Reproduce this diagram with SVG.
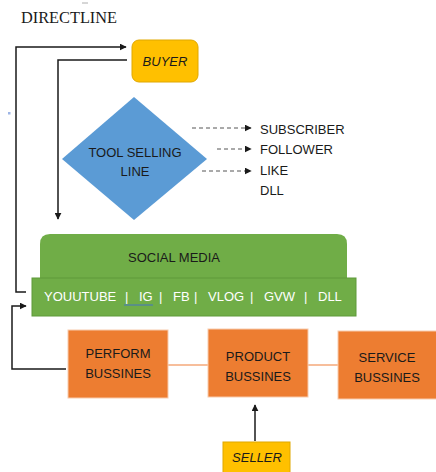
<svg xmlns="http://www.w3.org/2000/svg" width="436" height="472" viewBox="0 0 436 472">
  <style>
    .lbl { font-family: "Liberation Sans", Arial, sans-serif; font-size: 13px; fill: #1a1a1a; }
    .mid { text-anchor: middle; }
    .ital { font-style: italic; }
    .wire { fill: none; stroke: #1a1a1a; stroke-width: 1.5; }
    .dash { fill: none; stroke: #555; stroke-width: 1; stroke-dasharray: 4 3; }
    .link { fill: none; stroke: #F4A97A; stroke-width: 1.5; }
    .biz { fill: #ED7D31; stroke: #F8CBAD; stroke-width: 1; }
    .gold { fill: #FFC000; stroke: #E0A800; stroke-width: 1; }
    .chan { font-family: "Liberation Sans", Arial, sans-serif; font-size: 13px; fill: #ffffff; }
  </style>
  <defs>
    <marker id="tip" viewBox="0 0 10 10" refX="9" refY="5" markerWidth="7" markerHeight="7" markerUnits="userSpaceOnUse" orient="auto">
      <path d="M0,0 L10,5 L0,10 z" fill="#1a1a1a"/>
    </marker>
  </defs>

  <rect width="436" height="472" fill="#ffffff"/>

  <!-- heading -->
  <line x1="82" y1="3" x2="88" y2="3" stroke="#999" stroke-width="0.8"/>
  <text x="21" y="23" font-family="'Liberation Serif', 'Times New Roman', serif" font-size="16" fill="#1a1a1a" textLength="96" lengthAdjust="spacingAndGlyphs">DIRECTLINE</text>
  <rect x="8" y="112" width="2.5" height="2.5" fill="#9DB5E6"/>

  <!-- connectors -->
  <g id="connectors">
    <path class="wire" d="M26,292 L16,292 L16,47 L126,47" marker-end="url(#tip)"/>
    <path class="wire" d="M127,60 L58,60 L58,219" marker-end="url(#tip)"/>
    <path class="wire" d="M66,369 L12,369 L12,306 L26,306" marker-end="url(#tip)"/>
    <path class="wire" d="M255,441 L255,405" marker-end="url(#tip)"/>
    <path class="dash" d="M192,128 L251,128" marker-end="url(#tip)"/>
    <path class="dash" d="M217,149 L251,149" marker-end="url(#tip)"/>
    <path class="dash" d="M202,171 L251,171" marker-end="url(#tip)"/>
    <line class="link" x1="168" y1="365" x2="208" y2="365"/>
    <line class="link" x1="308" y1="365" x2="338" y2="365"/>
  </g>

  <g id="buyer">
    <rect class="gold" x="132" y="40" width="66" height="42" rx="7"/>
    <text class="lbl mid ital" x="165" y="66">BUYER</text>
  </g>

  <g id="tool-selling-line">
    <polygon points="134,97 207,159 134,220 62,159" fill="#5B9BD5"/>
    <text class="lbl mid" x="135" y="157">TOOL SELLING</text>
    <text class="lbl mid" x="135" y="176">LINE</text>
  </g>

  <g id="metrics">
    <text class="lbl" x="260" y="134">SUBSCRIBER</text>
    <text class="lbl" x="260" y="154">FOLLOWER</text>
    <text class="lbl" x="260" y="175">LIKE</text>
    <text class="lbl" x="260" y="195">DLL</text>
  </g>

  <g id="social-media">
    <path d="M40,278 L40,244 Q40,234 50,234 L337,234 Q347,234 347,244 L347,278 Z" fill="#70AD47"/>
    <text class="lbl mid" x="174" y="262" font-size="13.8">SOCIAL MEDIA</text>
    <rect x="32" y="278" width="324" height="38" fill="#70AD47" stroke="#5E9A3A" stroke-width="1"/>
    <text class="chan" y="301"><tspan x="44">YOUUTUBE</tspan><tspan x="125">|</tspan><tspan x="139">IG</tspan><tspan x="159">|</tspan><tspan x="173">FB</tspan><tspan x="194">|</tspan><tspan x="208">VLOG</tspan><tspan x="250">|</tspan><tspan x="264">GVW</tspan><tspan x="304">|</tspan><tspan x="318">DLL</tspan></text>
    <line x1="124" y1="305" x2="153" y2="305" stroke="#4472C4" stroke-width="1"/>
  </g>

  <g id="perform-bussines">
    <rect class="biz" x="68" y="330" width="100" height="68"/>
    <text class="lbl mid" x="118" y="358">PERFORM</text>
    <text class="lbl mid" x="118" y="378">BUSSINES</text>
  </g>

  <g id="product-bussines">
    <rect class="biz" x="208" y="329" width="100" height="68"/>
    <text class="lbl mid" x="258" y="361">PRODUCT</text>
    <text class="lbl mid" x="258" y="381">BUSSINES</text>
  </g>

  <g id="service-bussines">
    <rect class="biz" x="338" y="331" width="102" height="68"/>
    <text class="lbl mid" x="387" y="362">SERVICE</text>
    <text class="lbl mid" x="387" y="382">BUSSINES</text>
  </g>

  <g id="seller">
    <rect class="gold" x="223" y="442" width="67" height="32"/>
    <text class="lbl mid ital" x="257" y="462">SELLER</text>
  </g>
</svg>
